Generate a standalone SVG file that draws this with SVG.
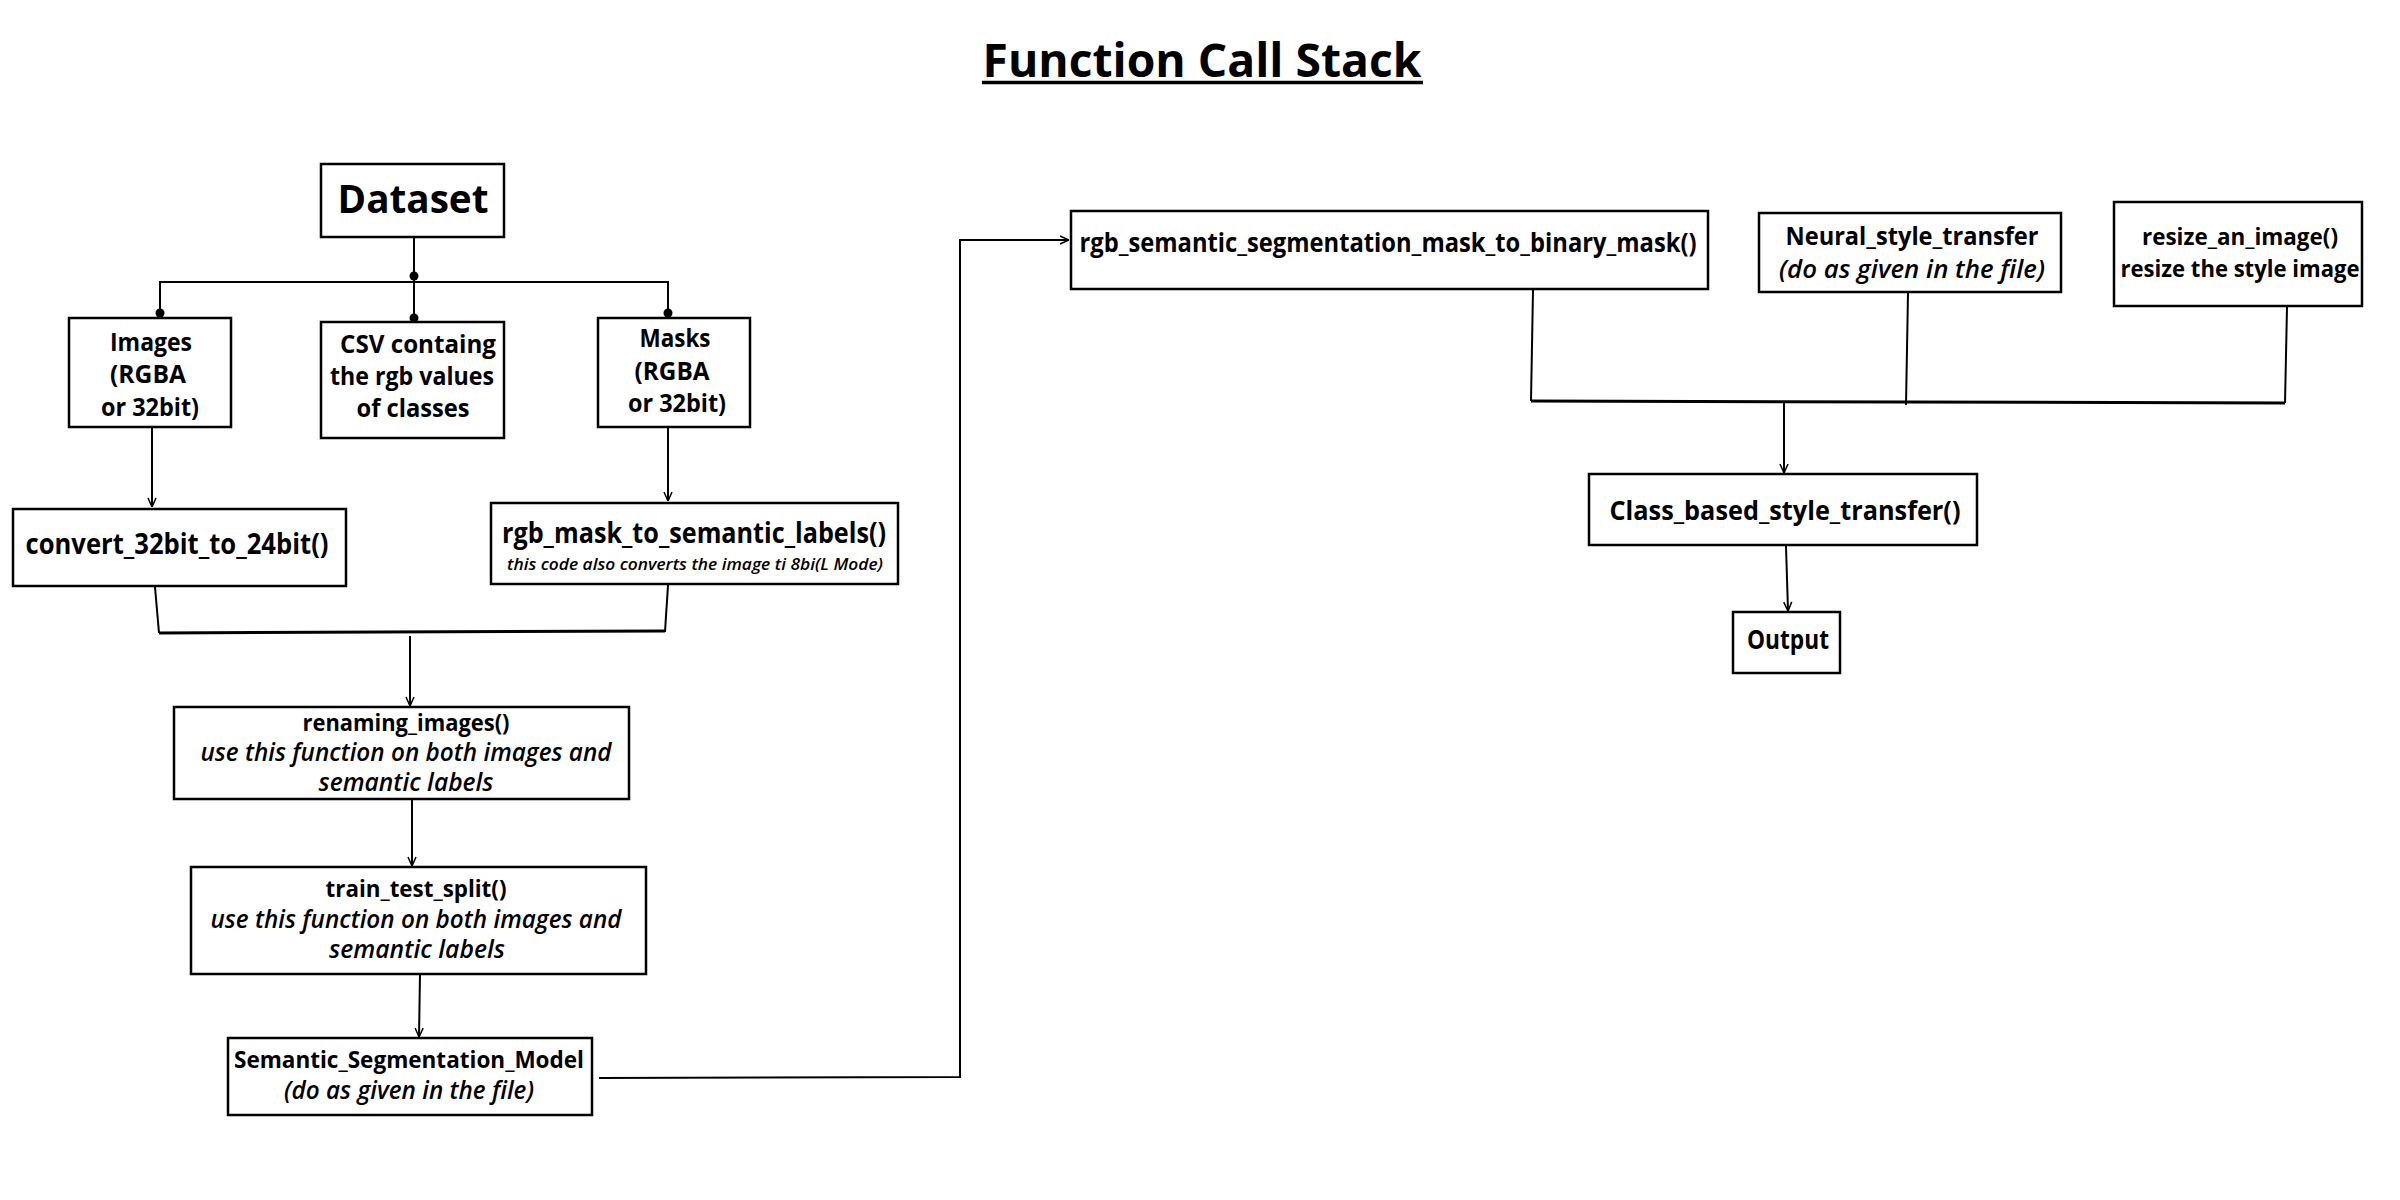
<svg xmlns="http://www.w3.org/2000/svg" width="2400" height="1200" viewBox="0 0 2400 1200">
<defs>
<style>
.box{fill:#fff;stroke:#000;stroke-width:2.5}
.c{fill:none;stroke:#000;stroke-width:2}
.m{fill:none;stroke:#000;stroke-width:3}
text{font-family:"Open Sans","Liberation Sans",sans-serif;fill:#000;text-anchor:middle}
.b{font-weight:700}
.i{font-weight:600;font-style:italic}
</style>
<marker id="arr" viewBox="0 0 10 10" refX="10" refY="5" markerWidth="10" markerHeight="10" markerUnits="userSpaceOnUse" orient="auto">
<path d="M1,1 L10,5 L1,9" fill="none" stroke="#000" stroke-width="1.5"/>
</marker>
</defs>
<rect width="2400" height="1200" fill="#fff"/>

<g id="title">
<text x="1202" y="77" class="b" font-size="47" textLength="439" lengthAdjust="spacingAndGlyphs">Function Call Stack</text>
<line x1="982" y1="82.5" x2="1423" y2="82.5" stroke="#000" stroke-width="3.5"/>
</g>

<g id="connectors">
<line class="c" x1="414" y1="237" x2="414" y2="318"/>
<polyline class="c" points="160,313 160,282 668,282 668,313"/>
<circle cx="414" cy="276" r="4.5"/>
<circle cx="414" cy="318" r="4.5"/>
<circle cx="160" cy="313" r="4.5"/>
<circle cx="668" cy="313" r="4.5"/>
<line class="c" x1="152" y1="428" x2="152" y2="507" marker-end="url(#arr)"/>
<line class="c" x1="668" y1="428" x2="668" y2="501" marker-end="url(#arr)"/>
<line class="c" x1="155" y1="587" x2="159" y2="633"/>
<line class="c" x1="668" y1="585" x2="665" y2="632"/>
<line class="m" x1="159" y1="633" x2="665" y2="631"/>
<line class="c" x1="410" y1="636" x2="410" y2="706" marker-end="url(#arr)"/>
<line class="c" x1="412" y1="799" x2="412" y2="866" marker-end="url(#arr)"/>
<line class="c" x1="420" y1="974" x2="419" y2="1037" marker-end="url(#arr)"/>
<polyline class="c" points="599,1078 960,1077 960,240 1069,240" marker-end="url(#arr)"/>
<line class="c" x1="1533" y1="290" x2="1531" y2="401"/>
<line class="c" x1="1908" y1="293" x2="1906" y2="405"/>
<line class="c" x1="2287" y1="307" x2="2285" y2="403"/>
<line class="m" x1="1531" y1="401" x2="2285" y2="403"/>
<line class="c" x1="1784" y1="403" x2="1784" y2="473" marker-end="url(#arr)"/>
<line class="c" x1="1786" y1="546" x2="1788" y2="611" marker-end="url(#arr)"/>
</g>

<g id="dataset">
<rect class="box" x="321" y="164" width="183" height="73"/>
<text x="413" y="213" class="b" font-size="40" textLength="151" lengthAdjust="spacingAndGlyphs">Dataset</text>
</g>

<g id="images">
<rect class="box" x="69" y="318" width="162" height="109"/>
<text x="151" y="351" class="b" font-size="25" textLength="82" lengthAdjust="spacingAndGlyphs">Images</text>
<text x="148" y="383" class="b" font-size="25" textLength="76" lengthAdjust="spacingAndGlyphs">(RGBA</text>
<text x="150" y="416" class="b" font-size="25" textLength="98" lengthAdjust="spacingAndGlyphs">or 32bit)</text>
</g>

<g id="csv">
<rect class="box" x="321" y="322" width="183" height="116"/>
<text x="418" y="353" class="b" font-size="25" textLength="156" lengthAdjust="spacingAndGlyphs">CSV containg</text>
<text x="412" y="385" class="b" font-size="25" textLength="164" lengthAdjust="spacingAndGlyphs">the rgb values</text>
<text x="413" y="417" class="b" font-size="25" textLength="113" lengthAdjust="spacingAndGlyphs">of classes</text>
</g>

<g id="masks">
<rect class="box" x="598" y="318" width="152" height="109"/>
<text x="675" y="347" class="b" font-size="25" textLength="71" lengthAdjust="spacingAndGlyphs">Masks</text>
<text x="672" y="380" class="b" font-size="25" textLength="75" lengthAdjust="spacingAndGlyphs">(RGBA</text>
<text x="677" y="412" class="b" font-size="25" textLength="98" lengthAdjust="spacingAndGlyphs">or 32bit)</text>
</g>

<g id="convert">
<rect class="box" x="13" y="509" width="333" height="77"/>
<text x="177" y="554" class="b" font-size="28" textLength="303" lengthAdjust="spacingAndGlyphs">convert_32bit_to_24bit()</text>
</g>

<g id="rgb_mask">
<rect class="box" x="491" y="503" width="407" height="81"/>
<text x="694" y="543" class="b" font-size="28" textLength="384" lengthAdjust="spacingAndGlyphs">rgb_mask_to_semantic_labels()</text>
<text x="695" y="570" class="i" font-size="16" textLength="376" lengthAdjust="spacingAndGlyphs">this code also converts the image ti 8bi(L Mode)</text>
</g>

<g id="renaming">
<rect class="box" x="174" y="707" width="455" height="92"/>
<text x="406" y="731" class="b" font-size="24" textLength="207" lengthAdjust="spacingAndGlyphs">renaming_images()</text>
<text x="406" y="761" class="i" font-size="25" textLength="411" lengthAdjust="spacingAndGlyphs">use this function on both images and</text>
<text x="406" y="791" class="i" font-size="25" textLength="175" lengthAdjust="spacingAndGlyphs">semantic labels</text>
</g>

<g id="train">
<rect class="box" x="191" y="867" width="455" height="107"/>
<text x="416" y="897" class="b" font-size="24" textLength="181" lengthAdjust="spacingAndGlyphs">train_test_split()</text>
<text x="416" y="928" class="i" font-size="25" textLength="411" lengthAdjust="spacingAndGlyphs">use this function on both images and</text>
<text x="417" y="958" class="i" font-size="25" textLength="176" lengthAdjust="spacingAndGlyphs">semantic labels</text>
</g>

<g id="semantic_model">
<rect class="box" x="228" y="1038" width="364" height="77"/>
<text x="409" y="1068" class="b" font-size="24" textLength="350" lengthAdjust="spacingAndGlyphs">Semantic_Segmentation_Model</text>
<text x="409" y="1099" class="i" font-size="25" textLength="250" lengthAdjust="spacingAndGlyphs">(do as given in the file)</text>
</g>

<g id="rgb_semantic">
<rect class="box" x="1071" y="211" width="637" height="78"/>
<text x="1388" y="252" class="b" font-size="27" textLength="617" lengthAdjust="spacingAndGlyphs">rgb_semantic_segmentation_mask_to_binary_mask()</text>
</g>

<g id="neural">
<rect class="box" x="1759" y="213" width="302" height="79"/>
<text x="1912" y="245" class="b" font-size="25" textLength="253" lengthAdjust="spacingAndGlyphs">Neural_style_transfer</text>
<text x="1912" y="278" class="i" font-size="26" textLength="266" lengthAdjust="spacingAndGlyphs">(do as given in the file)</text>
</g>

<g id="resize">
<rect class="box" x="2114" y="202" width="248" height="104"/>
<text x="2240" y="245" class="b" font-size="24" textLength="196" lengthAdjust="spacingAndGlyphs">resize_an_image()</text>
<text x="2240" y="277" class="b" font-size="24" textLength="239" lengthAdjust="spacingAndGlyphs">resize the style image</text>
</g>

<g id="class_based">
<rect class="box" x="1589" y="474" width="388" height="71"/>
<text x="1785" y="520" class="b" font-size="27" textLength="351" lengthAdjust="spacingAndGlyphs">Class_based_style_transfer()</text>
</g>

<g id="output">
<rect class="box" x="1733" y="612" width="107" height="61"/>
<text x="1788" y="649" class="b" font-size="27" textLength="82" lengthAdjust="spacingAndGlyphs">Output</text>
</g>
</svg>
